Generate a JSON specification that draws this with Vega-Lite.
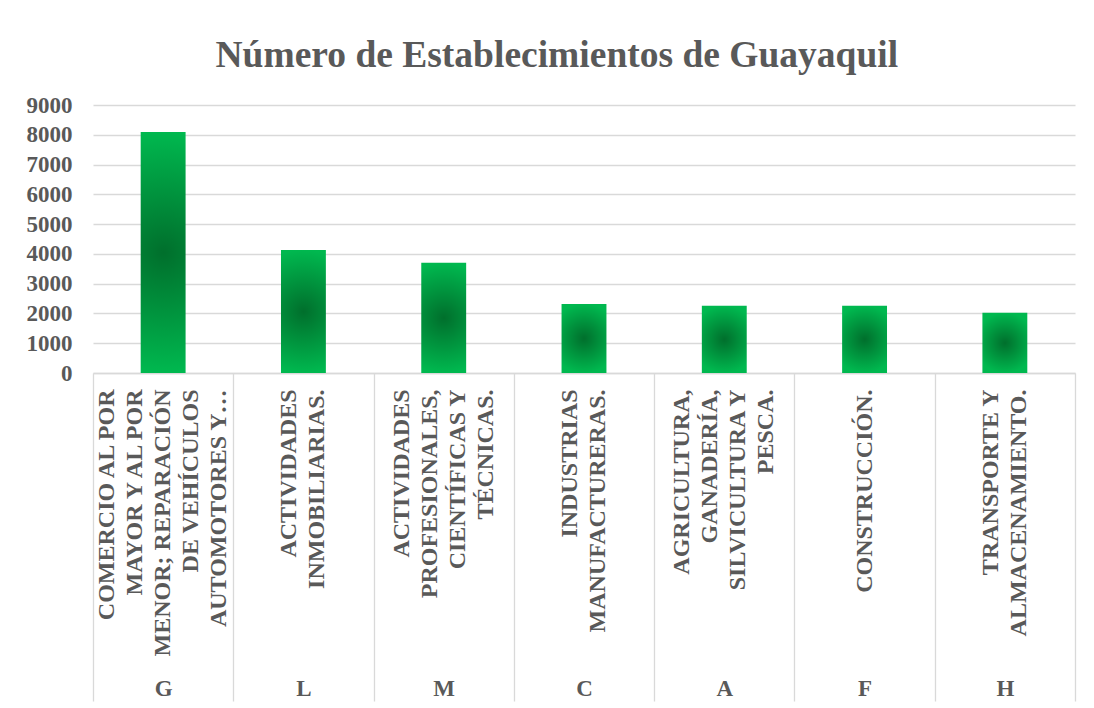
{
  "$schema": "https://vega.github.io/schema/vega-lite/v6.json",
  "width": 982,
  "height": 268,
  "padding": {"left": 26, "top": 36, "right": 18, "bottom": 0},
  "background": "white",
  "title": {
    "text": "Número de Establecimientos de Guayaquil",
    "font": "Liberation Serif",
    "fontSize": 37.5,
    "fontWeight": "bold",
    "color": "#595959",
    "frame": "bounds",
    "dx": 6,
    "offset": 20
  },
  "data": {
    "values": [
      {"code": "G", "name": "COMERCIO AL POR\nMAYOR Y AL POR\nMENOR; REPARACIÓN\nDE VEHÍCULOS\nAUTOMOTORES Y…", "value": 8090},
      {"code": "L", "name": "ACTIVIDADES\nINMOBILIARIAS.", "value": 4130},
      {"code": "M", "name": "ACTIVIDADES\nPROFESIONALES,\nCIENTÍFICAS Y\nTÉCNICAS.", "value": 3700},
      {"code": "C", "name": "INDUSTRIAS\nMANUFACTURERAS.", "value": 2320},
      {"code": "A", "name": "AGRICULTURA,\nGANADERÍA,\nSILVICULTURA Y\nPESCA.", "value": 2255},
      {"code": "F", "name": "CONSTRUCCIÓN.", "value": 2255},
      {"code": "H", "name": "TRANSPORTE Y\nALMACENAMIENTO.", "value": 2020}
    ]
  },
  "layer": [
    {
      "mark": {
        "type": "bar",
        "fill": {
          "gradient": "radial",
          "stops": [
            {"offset": 0, "color": "#006f2c"},
            {"offset": 1, "color": "#00b84f"}
          ]
        }
      },
      "encoding": {
        "x": {
          "field": "name",
          "type": "nominal",
          "sort": null,
          "scale": {"paddingInner": 0.68, "paddingOuter": 0.34},
          "axis": {
            "orient": "bottom",
            "title": null,
            "labelAngle": 270,
            "labelExpr": "split(datum.label, '\\n')",
            "labelFont": "Liberation Serif",
            "labelFontSize": 24,
            "labelFontWeight": "bold",
            "labelColor": "#595959",
            "labelLineHeight": 28,
            "labelPadding": 16,
            "labelLimit": 0,
            "labelOffset": {
              "condition": [
                {"test": "length(split(datum.value, '\\n')) == 5", "value": -56},
                {"test": "length(split(datum.value, '\\n')) == 4", "value": -42},
                {"test": "length(split(datum.value, '\\n')) == 2", "value": -14}
              ],
              "value": 0
            },
            "ticks": false,
            "domainColor": "#d9d9d9",
            "domainWidth": 1.3
          }
        },
        "y": {
          "field": "value",
          "type": "quantitative",
          "scale": {"domain": [0, 9000]},
          "axis": {
            "title": null,
            "values": [0, 1000, 2000, 3000, 4000, 5000, 6000, 7000, 8000, 9000],
            "format": "d",
            "domain": false,
            "ticks": false,
            "gridColor": "#d9d9d9",
            "gridWidth": 1.3,
            "labelPadding": 21,
            "labelFont": "Liberation Serif",
            "labelFontSize": 23,
            "labelFontWeight": "bold",
            "labelColor": "#595959"
          }
        }
      }
    },
    {
      "mark": {"type": "bar", "opacity": 0},
      "encoding": {
        "x": {
          "field": "code",
          "type": "nominal",
          "sort": null,
          "scale": {"paddingInner": 0, "paddingOuter": 0},
          "axis": {
            "orient": "bottom",
            "title": null,
            "labelAngle": 0,
            "domain": false,
            "ticks": true,
            "tickBand": "extent",
            "tickSize": 328,
            "tickColor": "#d9d9d9",
            "tickWidth": 1.3,
            "labelPadding": -6,
            "labelBaseline": "alphabetic",
            "labelFont": "Liberation Serif",
            "labelFontSize": 23,
            "labelFontWeight": "bold",
            "labelColor": "#595959"
          }
        }
      }
    }
  ],
  "resolve": {"scale": {"x": "independent"}, "axis": {"x": "independent"}},
  "config": {"view": {"stroke": null}}
}
